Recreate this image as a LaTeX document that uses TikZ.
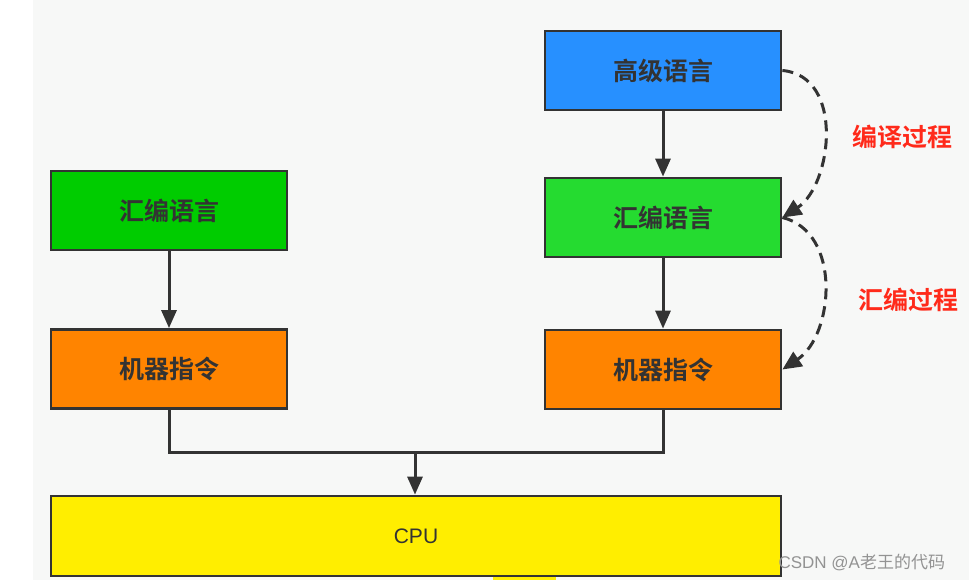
\documentclass[tikz,border=0pt]{standalone}
\usepackage{fontspec}
\setmainfont{Liberation Sans}
\newfontfamily\cjk{Noto Sans CJK SC}
\newfontfamily\cjkb{Noto Sans CJK SC Bold}
\usetikzlibrary{arrows.meta}
\definecolor{bgc}{HTML}{F7F8F7}
\definecolor{edge}{HTML}{333333}
\definecolor{cblue}{HTML}{2790FF}
\definecolor{cgreenL}{HTML}{00CC00}
\definecolor{cgreenR}{HTML}{25DB30}
\definecolor{corange}{HTML}{FF8400}
\definecolor{cyellow}{HTML}{FFEE00}
\definecolor{cred}{HTML}{FF2A1A}
\tikzset{
  box/.style={draw=edge, line width=2.8pt, minimum width=236pt, minimum height=79pt, inner sep=0pt,
    font=\cjkb\fontsize{25}{25}\selectfont, text=edge},
  conn/.style={draw=edge, line width=3pt, -{Triangle[length=18pt,width=15pt]}},
  dconn/.style={draw=edge, line width=3pt, dash pattern=on 11pt off 7pt, -{Triangle[length=19pt,width=17pt]}},
  lbl/.style={font=\cjkb\fontsize{25}{25}\selectfont, text=cred}
}
\begin{document}
\begin{tikzpicture}[x=1pt,y=-1pt]
\useasboundingbox (0,0) rectangle (969,580);
\fill[bgc] (0,0) rectangle (969,580);
\fill[white] (0,0) rectangle (33,580);
\fill[cyellow] (493,574) rectangle (556,580);
% nodes
\node[box, fill=cblue] (hl) at (663,70.5) {高级语言};
\node[box, fill=cgreenR] (asmR) at (663,217.5) {汇编语言};
\node[box, fill=corange] (mcR) at (663,369.5) {机器指令};
\node[box, fill=cgreenL] (asmL) at (169,210.5) {汇编语言};
\node[box, fill=corange] (mcL) at (169,369) {机器指令};
\node[box, fill=cyellow, minimum width=730pt, minimum height=80pt, font=\fontsize{21}{21}\selectfont] (cpu) at (416,536) {CPU};
% connectors
\draw[conn] (hl) -- (asmR);
\draw[conn] (asmR) -- (mcR);
\draw[conn] (asmL) -- (mcL);
\coordinate (j) at (415,452);
\draw[draw=edge, line width=3pt] (mcL.south) |- (j) -| (mcR.south);
\draw[conn] (j) -- (cpu.north -| j);
% dashed curves
\draw[dconn] (hl.east) .. controls (845,76) and (832,185) .. (asmR.east);
\draw[dconn] (asmR.east) .. controls (842,232) and (834,335) .. (mcR.east);
% labels
\node[lbl] (l1) at (902,137) {编译过程};
\node[lbl] (l2) at (908,300) {汇编过程};
\node[font=\fontsize{17}{17}\selectfont, text=gray!85, anchor=west] (wm) at (775,562) {CSDN @A{\cjk 老王的代码}};
\end{tikzpicture}
\end{document}
